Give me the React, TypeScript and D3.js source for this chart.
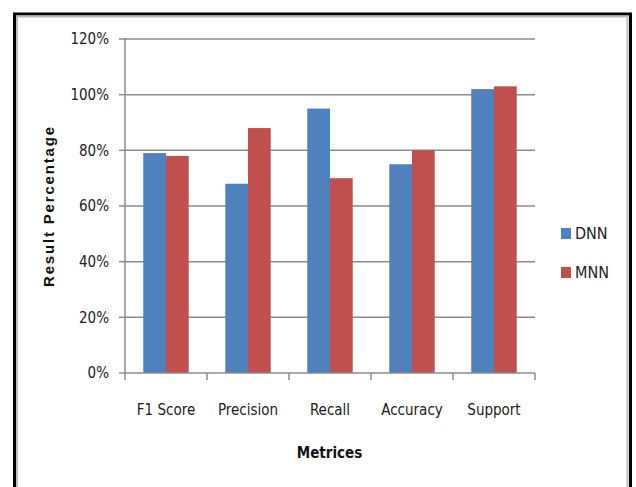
import React from "react";
import * as d3 from "d3";

const categories = ["F1 Score", "Precision", "Recall", "Accuracy", "Support"];
const seriesNames = ["DNN", "MNN"];
const dnnValues = [79, 68, 95, 75, 102];
const mnnValues = [78, 88, 70, 80, 103];
const yTicks = [0, 20, 40, 60, 80, 100, 120];
const colors = ["#4f81bd", "#c0504d"];

const W = 636;
const H = 487;
const M = { left: 125, right: 535, top: 39, bottom: 373 };
const narrow = "'Liberation Sans Narrow', 'DejaVu Sans Condensed', 'Arial Narrow', sans-serif";
const boldFont = "'Liberation Sans', Arial, sans-serif";

export default function App() {
  const x = d3.scaleBand<string>().domain(categories).range([M.left, M.right]).paddingInner(0).paddingOuter(0);
  const y = d3.scaleLinear().domain([0, 120]).range([M.bottom, M.top]);
  const bw = x.bandwidth();
  const barW = bw * 0.277;
  const sub = d3.scaleBand<string>().domain(seriesNames).range([bw / 2 - barW, bw / 2 + barW]);
  const series = [dnnValues, mnnValues];

  return (
    <svg width={W} height={H} style={{ position: "absolute", left: 0, top: 0 }}>
      <rect x={0} y={0} width={W} height={H} fill="#fff" />
      {/* outer frame */}
      <path d={`M14.5,${H} L14.5,14 L630.5,14 L630.5,${H}`} fill="none" stroke="#000" strokeWidth={3} />
      <path d={`M17,${H} L17,16.5 L627.5,16.5 L627.5,${H}`} fill="none" stroke="#bdbdbd" strokeWidth={2} />
      {/* gridlines & y ticks */}
      {yTicks.map((t) => (
        <g key={t}>
          {t > 0 && (
            <line x1={M.left} x2={M.right} y1={y(t)} y2={y(t)} stroke="#8c8c8c" strokeWidth={1.5} />
          )}
          <line x1={119} x2={M.left} y1={y(t)} y2={y(t)} stroke="#8c8c8c" strokeWidth={1.5} />
          <text x={109} y={y(t)} dy="0.36em" textAnchor="end" fontFamily={narrow} fontSize={15} fill="#222">
            {t}%
          </text>
        </g>
      ))}
      {/* bars */}
      {categories.map((c, i) => (
        <g key={c} transform={`translate(${x(c)},0)`}>
          {seriesNames.map((s, j) => (
            <rect
              key={s}
              x={sub(s)}
              width={sub.bandwidth()}
              y={y(series[j][i])}
              height={y(0) - y(series[j][i])}
              fill={colors[j]}
            />
          ))}
        </g>
      ))}
      {/* axes */}
      <line x1={M.left} x2={M.left} y1={M.top - 1} y2={M.bottom + 7} stroke="#8c8c8c" strokeWidth={1.5} />
      <line x1={M.left} x2={M.right} y1={M.bottom} y2={M.bottom} stroke="#8c8c8c" strokeWidth={1.5} />
      {categories.map((c) => (
        <line key={c} x1={(x(c) as number) + bw} x2={(x(c) as number) + bw} y1={M.bottom} y2={M.bottom + 7} stroke="#8c8c8c" strokeWidth={1.5} />
      ))}
      {categories.map((c) => (
        <text key={c} x={(x(c) as number) + bw / 2} y={415} textAnchor="middle" fontFamily={narrow} fontSize={15} fill="#222">
          {c}
        </text>
      ))}
      <text x={329.5} y={458} textAnchor="middle" fontFamily={narrow} fontWeight="bold" fontSize={15} fill="#111">
        Metrices
      </text>
      <text
        transform={`translate(54,207) rotate(-90)`}
        textAnchor="middle"
        fontFamily={boldFont}
        fontWeight="bold"
        fontSize={15}
        fill="#111"
        textLength={160}
        lengthAdjust="spacing"
      >
        Result Percentage
      </text>
      {/* legend */}
      {seriesNames.map((s, j) => (
        <g key={s} transform={`translate(561,${228 + j * 39})`}>
          <rect x={0} y={0} width={10} height={11} fill={colors[j]} />
          <text x={14} y={11} fontFamily={narrow} fontSize={16} fill="#222">
            {s}
          </text>
        </g>
      ))}
    </svg>
  );
}
